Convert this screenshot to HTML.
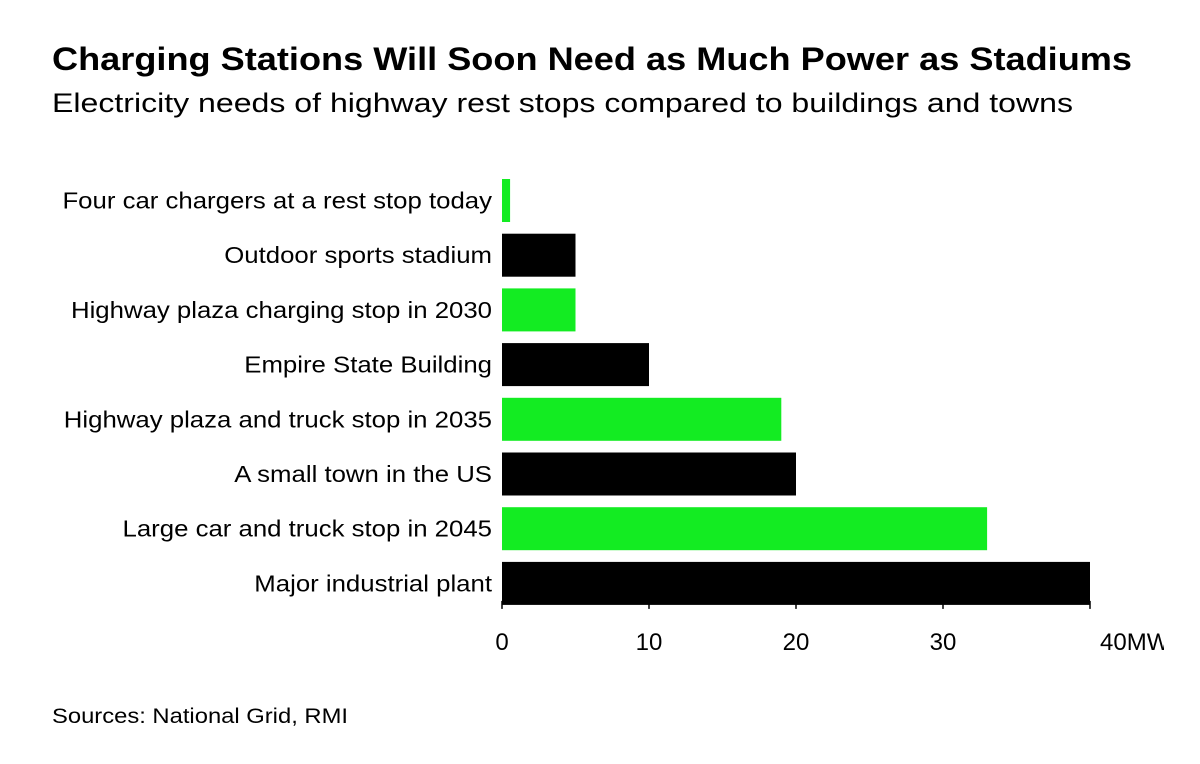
<!DOCTYPE html>
<html><head><meta charset="utf-8"><style>
body{margin:0;background:#fff;width:1200px;height:759px;overflow:hidden;font-family:"Liberation Sans",Arial,sans-serif;}
</style></head><body>
<svg width="1200" height="759" xmlns="http://www.w3.org/2000/svg">
<text x="52" y="70" font-size="32" font-weight="bold" fill="#000" textLength="1080" lengthAdjust="spacingAndGlyphs">Charging Stations Will Soon Need as Much Power as Stadiums</text>
<text x="52" y="112" font-size="27" fill="#000" textLength="1021" lengthAdjust="spacingAndGlyphs">Electricity needs of highway rest stops compared to buildings and towns</text>
<g id="bars"></g>
<g id="axis"></g>
<text x="52" y="723" font-size="21" fill="#000" textLength="296" lengthAdjust="spacingAndGlyphs">Sources: National Grid, RMI</text>
<defs><clipPath id="clip"><rect x="0" y="0" width="1164" height="759"/></clipPath></defs>
</svg>
<script>
const categories=["Four car chargers at a rest stop today","Outdoor sports stadium","Highway plaza charging stop in 2030","Empire State Building","Highway plaza and truck stop in 2035","A small town in the US","Large car and truck stop in 2045","Major industrial plant"];
const values=[0.55,5,5,10,19,20,33,40];
const highlight=[true,false,true,false,true,false,true,false];
const ticks=[0,10,20,30,40];
const tickLabels=["0","10","20","30","40MW"];
const NS="http://www.w3.org/2000/svg";
const x0=502,x1=1090,vmax=40;
const xs=v=>x0+(x1-x0)*v/vmax;
const yTop=179,step=54.7,bh=43;
const bars=document.getElementById('bars'),axis=document.getElementById('axis');
categories.forEach((c,i)=>{
  const y=yTop+i*step;
  const r=document.createElementNS(NS,'rect');
  r.setAttribute('x',x0);r.setAttribute('y',y);
  r.setAttribute('width',xs(values[i])-x0);r.setAttribute('height',bh);
  r.setAttribute('fill',highlight[i]?'#13ec22':'#000');
  
  
  bars.appendChild(r);
  const t=document.createElementNS(NS,'text');
  t.setAttribute('x',492);t.setAttribute('y',y+bh/2+8);
  t.setAttribute('text-anchor','end');t.setAttribute('font-size','23');
  t.textContent=c;
  
  
  bars.appendChild(t);
  const len=t.getComputedTextLength();
  t.setAttribute('textLength',len*1.12);
  t.setAttribute('lengthAdjust','spacingAndGlyphs');
});
const base=yTop+7*step+bh;
ticks.forEach((v,i)=>{
  const l=document.createElementNS(NS,'line');
  l.setAttribute('x1',xs(v));l.setAttribute('x2',xs(v));
  l.setAttribute('y1',base-4);l.setAttribute('y2',base+4);
  l.setAttribute('stroke','#000');l.setAttribute('stroke-width','1.5');
  
  
  axis.appendChild(l);
  const t=document.createElementNS(NS,'text');
  t.setAttribute('y',650);
  t.setAttribute('font-size','24');
  t.setAttribute('clip-path','url(#clip)');
  if(i==4){t.setAttribute('x',xs(v)+10);t.setAttribute('text-anchor','start');}
  else{t.setAttribute('x',xs(v));t.setAttribute('text-anchor','middle');}
  t.textContent=tickLabels[i];
  
  
  axis.appendChild(t);
});
</script>
</body></html>
